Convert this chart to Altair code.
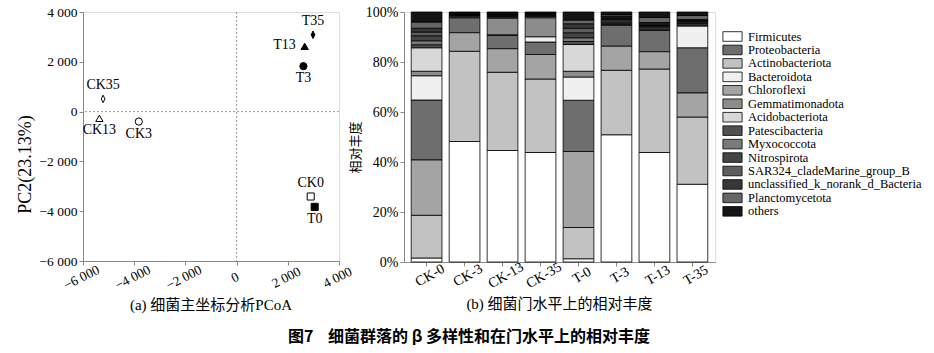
import altair as alt
import pandas as pd

SERIF = "Liberation Serif, Noto Sans CJK SC"
CJK_BOLD = "Noto Sans CJK SC"

# ---------------- (a) PCoA data ----------------
pcoa_samples = ["CK0", "CK3", "CK13", "CK35", "T0", "T3", "T13", "T35"]
pcoa_group = ["CK", "CK", "CK", "CK", "T", "T", "T", "T"]
pcoa_day = ["0", "3", "13", "35", "0", "3", "13", "35"]
pc1 = [2895, -3820, -5360, -5215, 3050, 2610, 2660, 2985]
pc2 = [-3410, -400, -270, 510, -3825, 1825, 2620, 3087]
pc_ticks = [-6000, -4000, -2000, 0, 2000, 4000]

# ---------------- (b) phylum relative abundance (%) ----------------
bar_samples = ["CK-0", "CK-3", "CK-13", "CK-35", "T-0", "T-3", "T-13", "T-35"]
phyla = ["Firmicutes", "Proteobacteria", "Actinobacteriota", "Bacteroidota",
         "Chloroflexi", "Gemmatimonadota", "Acidobacteriota", "Patescibacteria",
         "Myxococcota", "Nitrospirota", "SAR324_cladeMarine_group_B",
         "unclassified_k_norank_d_Bacteria", "Planctomycetota", "others"]
stack_order = ["Firmicutes", "Actinobacteriota", "Chloroflexi", "Proteobacteria",
               "Bacteroidota", "Gemmatimonadota", "Acidobacteriota", "Patescibacteria",
               "Myxococcota", "Nitrospirota", "SAR324_cladeMarine_group_B",
               "unclassified_k_norank_d_Bacteria", "Planctomycetota", "others"]
firmicutes = [1.6, 48.2, 44.6, 43.8, 1.3, 50.9, 43.8, 31.1]
proteobacteria = [24.0, 6.0, 5.3, 5.0, 20.5, 8.3, 8.5, 18.1]
actinobacteriota = [17.1, 36.1, 31.3, 29.4, 12.5, 25.8, 33.4, 26.9]
bacteroidota = [9.7, 0.3, 0.3, 2.1, 9.3, 0.4, 0.3, 8.7]
chloroflexi = [22.1, 7.4, 9.4, 9.8, 30.4, 9.6, 6.9, 9.6]
gemmatimonadota = [1.8, 0.3, 6.6, 7.6, 2.3, 0.4, 0.4, 0.4]
acidobacteriota = [9.4, 0.3, 0.4, 0.4, 10.7, 0.5, 0.4, 0.4]
patescibacteria = [1.2, 0.2, 0.3, 0.3, 1.2, 0.6, 0.5, 0.4]
myxococcota = [1.6, 0.2, 0.3, 0.3, 1.5, 0.5, 0.4, 0.4]
nitrospirota = [2.0, 0.1, 0.2, 0.2, 2.0, 0.4, 0.3, 0.3]
sar324 = [1.5, 0.2, 0.3, 0.2, 1.8, 0.5, 0.4, 0.3]
unclassified = [1.5, 0.2, 0.3, 0.3, 1.8, 0.5, 0.5, 0.4]
planctomycetota = [2.5, 0.2, 0.3, 0.2, 1.5, 0.6, 2.0, 1.6]
others = [4.0, 0.3, 0.4, 0.4, 3.2, 1.0, 2.2, 1.4]
pct_ticks = [0, 20, 40, 60, 80, 100]

series = [firmicutes, proteobacteria, actinobacteriota, bacteroidota, chloroflexi,
          gemmatimonadota, acidobacteriota, patescibacteria, myxococcota, nitrospirota,
          sar324, unclassified, planctomycetota, others]

# ---------------- tables ----------------
label_place = {"CK35": "above", "T35": "above", "CK0": "above",
               "CK13": "below", "CK3": "below", "T3": "below", "T0": "below",
               "T13": "left"}
pcoa_df = pd.DataFrame({"sample": pcoa_samples, "group": pcoa_group, "day": pcoa_day,
                        "pc1": pc1, "pc2": pc2})
pcoa_df["place"] = pcoa_df["sample"].map(label_place)

rows = []
for ph, vals in zip(phyla, series):
    for s, v in zip(bar_samples, vals):
        rows.append({"sample": s, "phylum": ph, "value": v, "rank": stack_order.index(ph)})
bar_df = pd.DataFrame(rows)

# ---------------- (a) chart ----------------
num_expr = "replace(format(datum.value, ',d'), ',', ' ')"
xs = alt.Scale(domain=[-6000, 4000], nice=False, zero=False)
ys = alt.Scale(domain=[-6000, 4000], nice=False, zero=False)

x_enc = alt.X("pc1:Q", scale=xs, axis=alt.Axis(
    values=pc_ticks, labelExpr=num_expr, title=None, grid=False, tickSize=4,
    labelAngle=333, labelAlign="center", labelBaseline="top", labelOffset=-5,
    labelPadding=6, labelFontSize=13.5, labelFont=SERIF))
y_enc = alt.Y("pc2:Q", scale=ys, axis=alt.Axis(
    values=pc_ticks, labelExpr=num_expr, title="PC2(23.13%)", grid=False, tickSize=4,
    labelFontSize=13.5, labelFont=SERIF, titleFont=SERIF, titleFontSize=18,
    titleFontWeight="normal", titlePadding=5, titleY=152))

zero_df = pd.DataFrame({"v": [0]})
vrule = alt.Chart(zero_df).mark_rule(color="#999999", strokeDash=[2, 2], strokeWidth=1).encode(
    x=alt.X("v:Q", scale=xs))
hrule = alt.Chart(zero_df).mark_rule(color="#999999", strokeDash=[2, 2], strokeWidth=1).encode(
    y=alt.Y("v:Q", scale=ys))

diamond = "M0,-1L0.5,0L0,1L-0.5,0Z"
points = alt.Chart(pcoa_df).mark_point(filled=True, stroke="black", strokeWidth=1, opacity=1).encode(
    x=x_enc, y=y_enc,
    shape=alt.Shape("day:N", scale=alt.Scale(domain=["0", "3", "13", "35"],
                                             range=["square", "circle", "triangle-up", diamond]),
                    legend=None),
    size=alt.Size("day:N", scale=alt.Scale(domain=["0", "3", "13", "35"], range=[50, 55, 85, 150]),
                  legend=None),
    fill=alt.Fill("group:N", scale=alt.Scale(domain=["CK", "T"], range=["white", "black"]),
                  legend=None),
)

def labels(place, **kw):
    return alt.Chart(pcoa_df).transform_filter(alt.datum.place == place).mark_text(
        font=SERIF, fontSize=14, color="black", **kw).encode(
        x=alt.X("pc1:Q", scale=xs), y=alt.Y("pc2:Q", scale=ys), text="sample:N")

left = alt.layer(
    vrule, hrule, points,
    labels("above", dy=-14, baseline="middle"),
    labels("below", dy=12, baseline="middle"),
    labels("left", dx=-9, dy=-1, align="right", baseline="middle"),
).properties(width=256, height=249,
             title=alt.Title("(a) 细菌主坐标分析PCoA", orient="bottom", fontSize=15,
                             font=SERIF, fontWeight="normal", offset=6))

# ---------------- (b) chart ----------------
fills = ["#ffffff", "#6e6e6e", "#c2c2c2", "#f0f0f0", "#a4a4a4", "#8c8c8c", "#d8d8d8",
         "#505050", "#7a7a7a", "#454545", "#5e5e5e", "#383838", "#666666", "#151515"]
rect_sym = "M-1.6,-0.8H1.6V0.8H-1.6Z"

right = alt.Chart(bar_df).mark_bar(stroke="black", strokeWidth=0.8).encode(
    x=alt.X("sample:N", sort=bar_samples,
            scale=alt.Scale(paddingInner=0.19, paddingOuter=0.19),
            axis=alt.Axis(title=None, labelAngle=330, labelAlign="center",
                          labelBaseline="top", labelPadding=3, tickSize=4,
                          labelFontSize=14, labelFont=SERIF)),
    y=alt.Y("value:Q", stack="zero", scale=alt.Scale(domain=[0, 100], nice=False),
            axis=alt.Axis(values=pct_ticks, labelExpr="datum.value + '%'", title="相对丰度",
                          grid=False, tickSize=4, labelFontSize=14, labelFont=SERIF,
                          titleFont=SERIF, titleFontSize=13, titleY=135,
                          titleFontWeight="normal", titlePadding=3)),
    fill=alt.Fill("phylum:N", scale=alt.Scale(domain=phyla, range=fills),
                  legend=alt.Legend(title=None, orient="none", legendX=322, legendY=18,
                                    symbolType=rect_sym, symbolSize=144,
                                    symbolStrokeColor="black", symbolStrokeWidth=0.8,
                                    labelFont=SERIF, labelFontSize=12.5, labelOffset=9,
                                    rowPadding=0.45, labelLimit=260, labelColor="black")),
    order=alt.Order("rank:Q", sort="ascending"),
).properties(width=311, height=250,
             title=alt.Title("(b) 细菌门水平上的相对丰度", orient="bottom", fontSize=15,
                             font=SERIF, fontWeight="normal", offset=6))

chart = alt.hconcat(left, right, spacing=65, bounds="flush").resolve_scale(
    fill="independent", shape="independent", size="independent"
).properties(
    title=alt.Title("图7\u00a0\u00a0\u00a0\u00a0细菌群落的 β 多样性和在门水平上的相对丰度",
                    orient="bottom", fontSize=16, font=CJK_BOLD, fontWeight="bold",
                    offset=16, anchor="middle"),
    padding={"left": 15, "top": 4, "right": 0, "bottom": 5},
).configure_view(stroke="black", strokeWidth=1).configure_axis(
    domainColor="black", tickColor="black", labelColor="black", titleColor="black",
    labelFont=SERIF, titleFont=SERIF, domainWidth=1,
).configure(background="white")

chart.save("out.html", embed_options={"renderer": "svg", "actions": False})
